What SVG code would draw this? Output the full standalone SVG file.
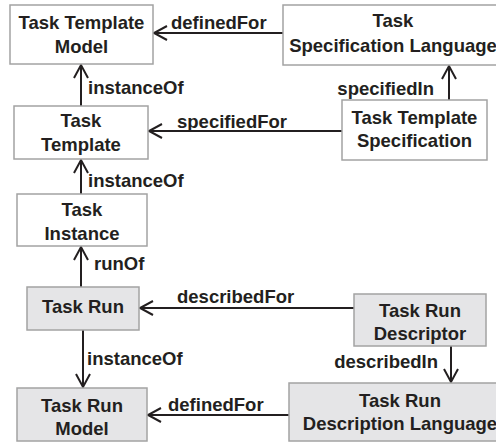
<svg xmlns="http://www.w3.org/2000/svg" width="496" height="444" viewBox="0 0 496 444">
<style>
  .box { fill: #ffffff; stroke: #a3a3a3; stroke-width: 1.5; }
  .gray { fill: #e5e5e7; }
  .t { font-family: "Liberation Sans", Arial, sans-serif; font-weight: bold; font-size: 18.5px; fill: #231f20; text-anchor: middle; }
  .lbl { font-family: "Liberation Sans", Arial, sans-serif; font-weight: bold; font-size: 18.5px; fill: #231f20; }
  .end { text-anchor: end; }
  .edge { stroke: #231f20; stroke-width: 2; fill: none; }
</style>
<defs>
  <marker id="arr" markerUnits="userSpaceOnUse" markerWidth="20" markerHeight="20" viewBox="-15 -10 20 20" refX="0" refY="0" orient="auto">
    <path d="M-13,-7 L0,0 L-13,7" fill="none" stroke="#231f20" stroke-width="2"/>
  </marker>
</defs>
<rect width="496" height="444" fill="#ffffff"/>

<g id="connectors">
  <g id="e-definedFor-top">
    <line class="edge" x1="283" y1="33" x2="154" y2="33" marker-end="url(#arr)"/>
    <text class="lbl" x="171" y="29">definedFor</text>
  </g>
  <g id="e-instanceOf-1">
    <line class="edge" x1="81" y1="106" x2="81" y2="65" marker-end="url(#arr)"/>
    <text class="lbl" x="88" y="94">instanceOf</text>
  </g>
  <g id="e-specifiedFor">
    <line class="edge" x1="342" y1="131" x2="149" y2="131" marker-end="url(#arr)"/>
    <text class="lbl" x="177" y="128">specifiedFor</text>
  </g>
  <g id="e-specifiedIn">
    <line class="edge" x1="449" y1="100" x2="449" y2="66" marker-end="url(#arr)"/>
    <text class="lbl end" x="434" y="95">specifiedIn</text>
  </g>
  <g id="e-instanceOf-2">
    <line class="edge" x1="81" y1="194" x2="81" y2="160" marker-end="url(#arr)"/>
    <text class="lbl" x="88" y="187">instanceOf</text>
  </g>
  <g id="e-runOf">
    <line class="edge" x1="81" y1="287" x2="81" y2="247" marker-end="url(#arr)"/>
    <text class="lbl" x="94" y="270">runOf</text>
  </g>
  <g id="e-describedFor">
    <line class="edge" x1="354" y1="308" x2="140" y2="308" marker-end="url(#arr)"/>
    <text class="lbl" x="177" y="303">describedFor</text>
  </g>
  <g id="e-instanceOf-3">
    <line class="edge" x1="83" y1="330" x2="83" y2="387" marker-end="url(#arr)"/>
    <text class="lbl" x="87" y="365">instanceOf</text>
  </g>
  <g id="e-describedIn">
    <line class="edge" x1="451" y1="346" x2="451" y2="382" marker-end="url(#arr)"/>
    <text class="lbl end" x="438" y="368">describedIn</text>
  </g>
  <g id="e-definedFor-bottom">
    <line class="edge" x1="289" y1="415" x2="148" y2="415" marker-end="url(#arr)"/>
    <text class="lbl" x="168" y="411">definedFor</text>
  </g>
</g>

<g id="n-taskTemplateModel">
  <rect class="box" x="10" y="5" width="143" height="59"/>
  <text class="t" x="81.5" y="29">Task Template</text>
  <text class="t" x="81.5" y="53">Model</text>
</g>
<g id="n-taskSpecificationLanguage">
  <rect class="box" x="283" y="5" width="220" height="60"/>
  <text class="t" x="393" y="27">Task</text>
  <text class="t" x="393" y="52">Specification Language</text>
</g>
<g id="n-taskTemplate">
  <rect class="box" x="14" y="106" width="134" height="53"/>
  <text class="t" x="81" y="127">Task</text>
  <text class="t" x="81" y="151">Template</text>
</g>
<g id="n-taskTemplateSpecification">
  <rect class="box" x="342" y="100" width="145" height="60"/>
  <text class="t" x="414.5" y="123.5">Task Template</text>
  <text class="t" x="414.5" y="147">Specification</text>
</g>
<g id="n-taskInstance">
  <rect class="box" x="17" y="194" width="130" height="52"/>
  <text class="t" x="82" y="216">Task</text>
  <text class="t" x="82" y="239.5">Instance</text>
</g>
<g id="n-taskRun">
  <rect class="box gray" x="27" y="287" width="112" height="43"/>
  <text class="t" x="83" y="313">Task Run</text>
</g>
<g id="n-taskRunDescriptor">
  <rect class="box gray" x="354" y="294" width="132" height="52"/>
  <text class="t" x="420" y="316.5">Task Run</text>
  <text class="t" x="420" y="339.5">Descriptor</text>
</g>
<g id="n-taskRunModel">
  <rect class="box gray" x="17" y="388" width="130" height="53"/>
  <text class="t" x="82" y="411.5">Task Run</text>
  <text class="t" x="82" y="434.5">Model</text>
</g>
<g id="n-taskRunDescriptionLanguage">
  <rect class="box gray" x="289" y="383" width="222" height="58"/>
  <text class="t" x="400" y="406.5">Task Run</text>
  <text class="t" x="400" y="430">Description Language</text>
</g>
</svg>
